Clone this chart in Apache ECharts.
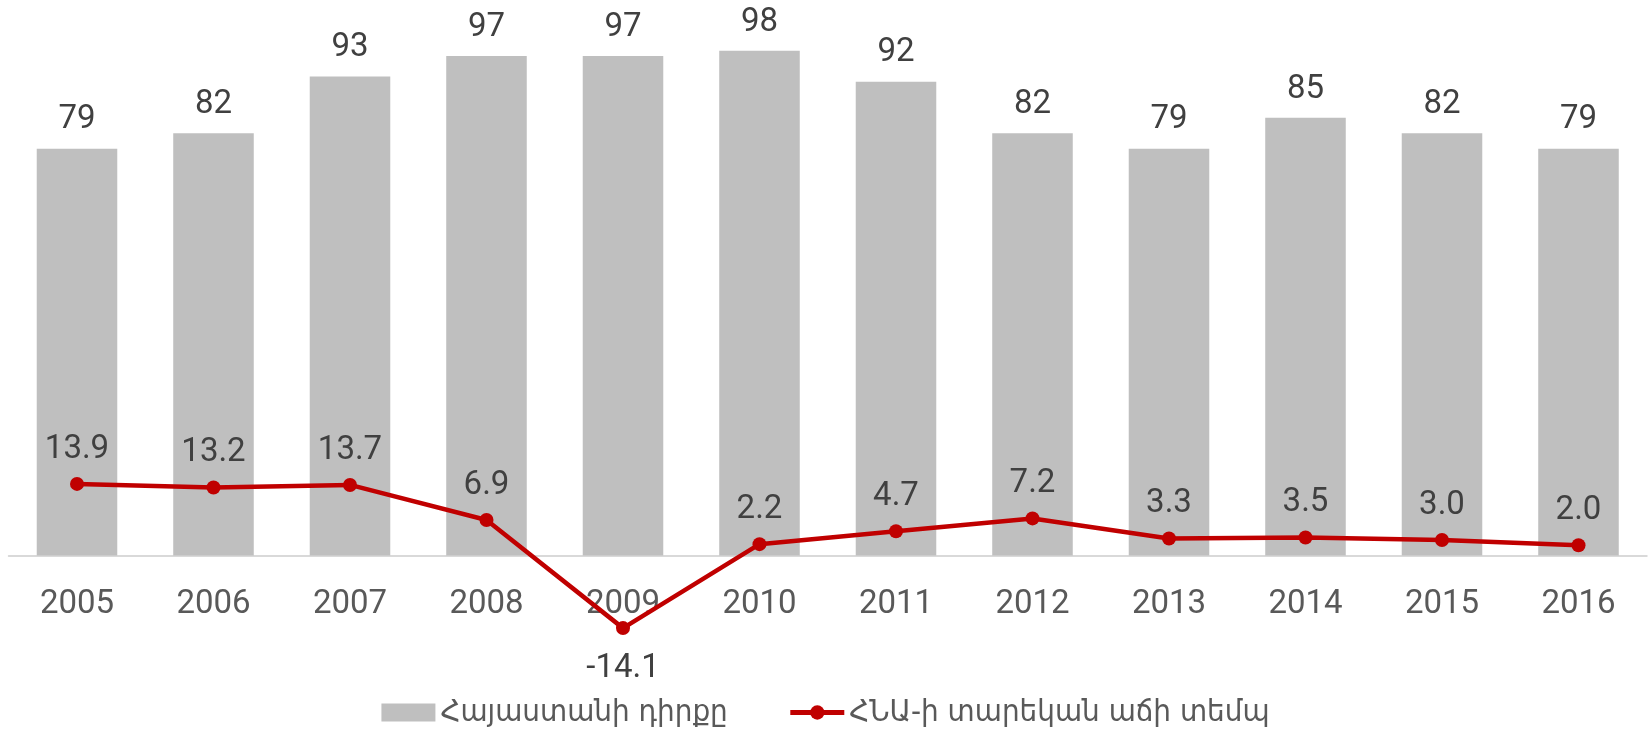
<!DOCTYPE html>
<html>
<head>
<meta charset="utf-8">
<script src="https://cdn.jsdelivr.net/npm/echarts@6/dist/echarts.min.js"></script>
<style>
html,body{margin:0;padding:0;background:#fff;}
#chart{width:1651px;height:739px;}
</style>
</head>
<body>
<div id="chart"></div>
<script>
const years = ['2005','2006','2007','2008','2009','2010','2011','2012','2013','2014','2015','2016'];
const rankValues = [79,82,93,97,97,98,92,82,79,85,82,79];
const growthValues = [13.9,13.2,13.7,6.9,-14.1,2.2,4.7,7.2,3.3,3.5,3.0,2.0];
const barName = 'Հայաստանի դիրքը';
const lineName = 'ՀՆԱ-ի տարեկան աճի տեմպ';

const numFont = 'Roboto, "Liberation Sans", sans-serif';
const armFont = '"DejaVu Sans Condensed", "DejaVu Sans", sans-serif';

const chart = echarts.init(document.getElementById('chart'), null, {renderer:'canvas'});
chart.setOption({
  animation: false,
  backgroundColor: '#ffffff',
  grid: {left: 8.75, right: 4.25, top: 40.5, bottom: 80.5, containLabel: false},
  legend: {
    bottom: 6,
    left: 'center',
    itemWidth: 54,
    itemHeight: 18,
    itemGap: 60,
    textStyle: {fontFamily: armFont, fontSize: 31, color: '#595959'},
    data: [
      {name: barName, icon: 'rect'},
      {name: lineName, lineStyle: {width: 5, color: '#C00000'}}
    ]
  },
  xAxis: {
    type: 'category',
    data: years,
    position: 'bottom',
    offset: -103,
    axisLine: {onZero: false, lineStyle: {color: '#D9D9D9', width: 2}},
    axisTick: {show: false},
    axisLabel: {fontFamily: numFont, fontSize: 33, color: '#595959', margin: 33}
  },
  yAxis: {
    type: 'value',
    min: -20,
    max: 100,
    show: false,
    splitLine: {show: false}
  },
  series: [
    {
      name: barName,
      type: 'bar',
      data: rankValues,
      barWidth: '59%',
      itemStyle: {color: '#BFBFBF'},
      label: {show: true, position: 'top', distance: 12, fontFamily: numFont, fontSize: 33, color: '#404040'}
    },
    {
      name: lineName,
      type: 'line',
      data: growthValues.map(v => v < 0 ? {value: v, label: {position: 'bottom', distance: 17}} : v),
      symbol: 'circle',
      symbolSize: 14,
      lineStyle: {color: '#C00000', width: 4.5},
      itemStyle: {color: '#C00000'},
      z: 5,
      label: {
        show: true, position: 'top', distance: 11,
        fontFamily: numFont, fontSize: 33, color: '#404040',
        formatter: p => Number(p.value).toFixed(1)
      }
    }
  ]
});
</script>
</body>
</html>
